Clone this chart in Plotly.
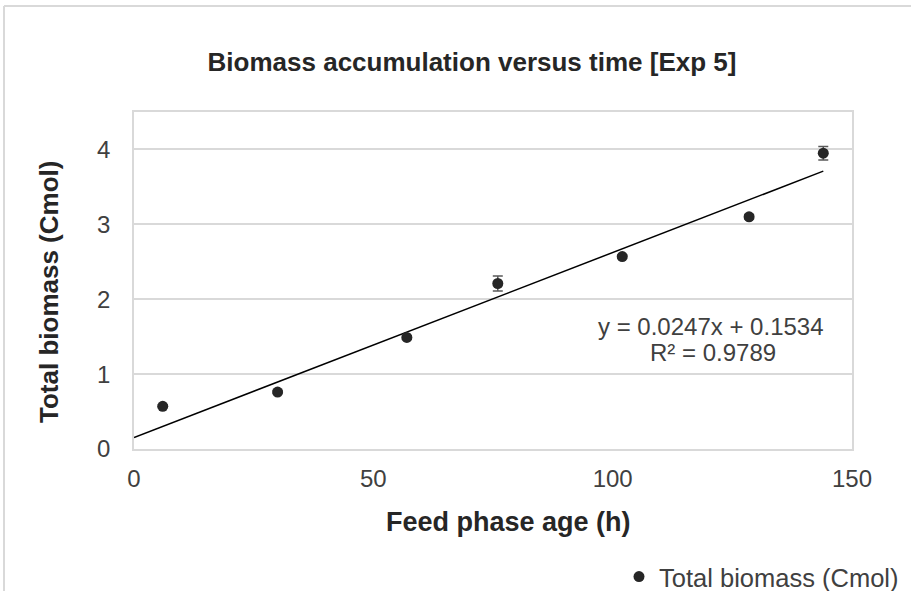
import plotly.graph_objects as go

# Data
feed_age_h = [6, 30, 57, 76, 102, 128.5, 144]
total_biomass = [0.57, 0.76, 1.49, 2.21, 2.57, 3.10, 3.95]
biomass_err = [0.02, 0.02, 0.02, 0.10, 0.02, 0.03, 0.09]
trend_slope = 0.0247
trend_intercept = 0.1534
trend_x = [0, 144]
series_name = "Total biomass (Cmol)"
x_ticks = [0, 50, 100, 150]
y_ticks = [0, 1, 2, 3, 4]

W, H = 911, 591
L, R, T, B = 134, 852, 112, 449


def px(xp):
    return (xp - L) / (R - L)


def py(yp):
    return (B - yp) / (B - T)


FONT = "Liberation Sans, Arial, sans-serif"
GRID = "#d9d9d9"

fig = go.Figure()

fig.add_trace(go.Scatter(
    x=trend_x,
    y=[trend_slope * v + trend_intercept for v in trend_x],
    mode="lines",
    line=dict(color="#000000", width=1.5),
    showlegend=False,
    hoverinfo="skip",
))

fig.add_trace(go.Scatter(
    x=feed_age_h,
    y=total_biomass,
    mode="markers",
    name=series_name,
    marker=dict(color="#262626", size=11),
    error_y=dict(type="data", array=biomass_err, visible=True,
                 color="#595959", thickness=1.5, width=5),
))

fig.update_layout(
    width=W, height=H,
    margin=dict(l=L, r=W - R, t=T, b=H - B, autoexpand=False),
    paper_bgcolor="white",
    plot_bgcolor="white",
    font=dict(family=FONT, color="#404040", size=24),
    title=dict(
        text="<b>Biomass accumulation versus time [Exp 5]</b>",
        x=472 / W, xref="container", xanchor="center",
        y=1 - 62 / H, yref="container", yanchor="middle",
        font=dict(family=FONT, size=26, color="#262626"),
    ),
    xaxis=dict(
        range=[0, 150], tickvals=x_ticks, ticktext=[str(v) for v in x_ticks],
        showgrid=False, zeroline=False,
        showline=True, mirror=True, linecolor=GRID, linewidth=1.5,
        ticks="outside", ticklen=7, tickcolor="rgba(0,0,0,0)",
        tickfont=dict(size=24, color="#404040"),
    ),
    yaxis=dict(
        range=[0, 4.5], tickvals=y_ticks, ticktext=[str(v) for v in y_ticks],
        showgrid=True, gridcolor=GRID, gridwidth=1.5, zeroline=False,
        showline=True, mirror=True, linecolor=GRID, linewidth=1.5,
        ticks="outside", ticklen=17, tickcolor="rgba(0,0,0,0)",
        tickfont=dict(size=24, color="#404040"),
    ),
    showlegend=True,
    legend=dict(
        x=px(904), xanchor="right", y=py(577), yanchor="middle",
        xref="paper", yref="paper",
        font=dict(size=25.5, color="#404040"),
        bgcolor="rgba(0,0,0,0)",
    ),
    annotations=[
        dict(text="<b>Feed phase age (h)</b>", x=px(508), y=py(522),
             xref="paper", yref="paper", showarrow=False,
             xanchor="center", yanchor="middle",
             font=dict(size=27, color="#262626")),
        dict(text="<b>Total biomass (Cmol)</b>", x=px(49), y=py(292),
             xref="paper", yref="paper", showarrow=False, textangle=-90,
             xanchor="center", yanchor="middle",
             font=dict(size=26, color="#262626")),
        dict(text="y = 0.0247x + 0.1534", x=px(711), y=py(326),
             xref="paper", yref="paper", showarrow=False,
             xanchor="center", yanchor="middle",
             font=dict(size=24, color="#404040")),
        dict(text="R² = 0.9789", x=px(713), y=py(352),
             xref="paper", yref="paper", showarrow=False,
             xanchor="center", yanchor="middle",
             font=dict(size=24, color="#404040")),
    ],
    shapes=[
        dict(type="line", xref="paper", yref="paper",
             x0=px(4), x1=px(911), y0=py(6), y1=py(6),
             line=dict(color=GRID, width=2)),
        dict(type="line", xref="paper", yref="paper",
             x0=px(4), x1=px(4), y0=py(6), y1=py(591),
             line=dict(color=GRID, width=2)),
    ],
)

fig.write_html(
    "out.html",
    config={"displayModeBar": False},
    post_script="document.body.style.margin='0';document.body.style.overflow='hidden';",
)
